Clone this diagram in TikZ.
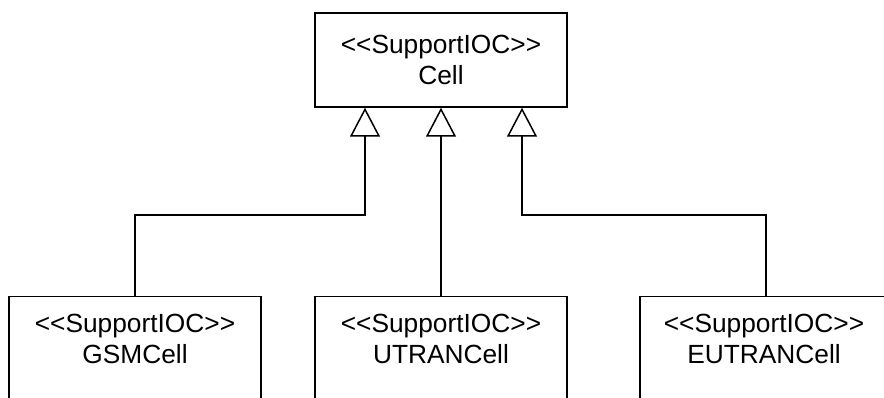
\documentclass[tikz,border=0pt]{standalone}
\usepackage{fontspec}
\setmainfont{Liberation Sans}
\usetikzlibrary{arrows.meta}
\newcommand{\stereo}{<{}<SupportIOC>{}>}
\begin{document}
\begin{tikzpicture}[x=1pt,y=-1pt,
  classbox/.style={draw, line width=1.5pt, minimum width=252pt, inner sep=0pt},
  lbl/.style={align=center, inner sep=0pt, font=\fontsize{26.3}{30.5}\selectfont},
  gen/.style={line width=1.5pt, -{Triangle[open, length=29pt, width=30pt, line width=1.5pt]}}]
\useasboundingbox (0,0) rectangle (884,398);
\clip (0,0) rectangle (884,398);
\node[classbox, minimum height=94pt, lbl] (cell) at (441,60) {\stereo\\Cell};
\node[classbox, minimum height=130pt, anchor=north] (gsm) at (135,296) {};
\node[lbl] (gsmt) at (135,339) {\stereo\\GSMCell};
\node[classbox, minimum height=130pt, anchor=north] (utran) at (441,296) {};
\node[lbl] (utrant) at (441,339) {\stereo\\UTRANCell};
\node[classbox, minimum height=130pt, anchor=north] (eutran) at (766,296) {};
\node[lbl] (eutrant) at (764,339) {\stereo\\EUTRANCell};
\draw[gen] (gsm.north) -- ++(0,-81) -| ([xshift=-76pt]cell.south);
\draw[gen] (utran.north) -- (cell.south);
\draw[gen] (eutran.north) -- ++(0,-81) -| ([xshift=81pt]cell.south);
\end{tikzpicture}
\end{document}
